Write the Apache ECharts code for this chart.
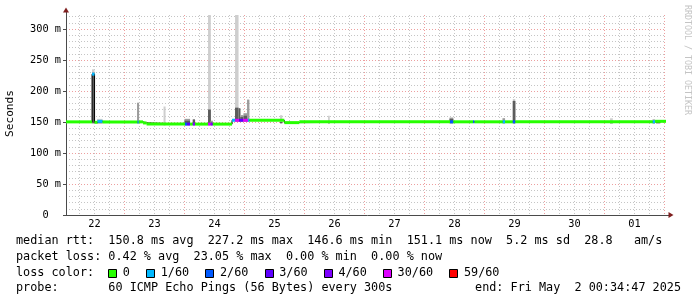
<!DOCTYPE html>
<html>
<head>
<meta charset="utf-8">
<script src="https://cdn.jsdelivr.net/npm/echarts@6.0.0/dist/echarts.min.js"></script>
<style>
html,body{margin:0;padding:0;background:#ffffff;}
#chart{width:697px;height:297px;}
</style>
</head>
<body>
<div id="chart"></div>
<script>
// ---- DATA (time unit: hours since 2025-04-22 00:00) ----
const timeStart = 0.58;   // Apr 22 00:34:47
const timeEnd = 240.58;   // May  2 00:34:47
const dayLabels = ['22','23','24','25','26','27','28','29','30','01'];
const yTickLabels = ['0  ','50 m','100 m','150 m','200 m','250 m','300 m'];

// loss colour legend
const lossLevels = [0, 1, 2, 3, 4, 30, 59];
const lossLabels = ['0','1/60','2/60','3/60','4/60','30/60','59/60'];
const lossColors = ['#26ff00','#00b8ff','#0059ff','#5e00ff','#7e00ff','#dd00ff','#ff0000'];

// median rtt: segment boundaries (hours), value (ms), lost pings
const medTimes = [0.58, 11.0, 12.0, 13.2, 15.2, 29.2, 29.7, 31.4, 32.8, 48.2, 49.0, 50.2, 51.3, 52.2, 57.4, 58.5, 59.3,
                  67.0, 68.2, 69.8, 71.4, 73.4, 74.0, 87.9, 93.9, 154.2, 155.5, 163.4, 164.0, 175.3, 176.2, 179.3, 180.3,
                  235.3, 236.2, 240.58];
const medMs = [150.2, 227.2, 149.5, 151.0, 150.2, 150.2, 150.2, 148.5, 146.6, 146.6, 146.6, 146.6, 146.6, 146.6, 146.6, 146.6, 146.6,
               152.8, 152.8, 152.8, 152.8, 152.8, 152.8, 149.0, 150.3, 150.3, 150.3, 150.3, 150.3, 150.3, 150.3, 150.3, 150.3,
               150.3, 151.1];
const medLoss = [0, 1, 0, 1, 0, 1, 0, 0, 0, 2, 3, 0, 4, 0, 14, 4, 0,
                 1, 12, 3, 8, 1, 0, 0, 0, 2, 0, 2, 0, 1, 0, 2, 0,
                 1, 0];

// smoke (ping spread): start/end hour, low, dense top, medium top, outer top (ms)
const smokeStart = [11.0, 13.0, 29.0, 39.6, 48.0, 51.3, 57.4, 58.5, 68.2, 69.6, 70.3, 71.6, 73.0, 86.2, 105.4, 154.0, 175.2, 179.3, 218.2, 235.2, 236.6];
const smokeEnd   = [12.0, 15.2, 29.8, 40.4, 50.2, 52.2, 58.5, 59.3, 69.6, 70.3, 71.6, 73.0, 73.9, 87.1, 106.1, 155.5, 176.2, 180.3, 219.3, 236.2, 238.3];
const smokeLow   = [148, 148, 148, 145, 145, 145, 145, 145, 151, 151, 151, 151, 151, 148, 148, 148, 148, 148, 148, 148, 148];
const smokeDark  = [227, 150, 150, 146, 152, 154, 170, 149, 173, 172, 158, 160, 152, 150, 150, 155, 150, 184, 150, 150, 150];
const smokeMid   = [230, 153, 181, 146, 155, 154, 170, 152, 173, 172, 161, 164, 186, 150, 150, 157, 156, 184, 150, 154, 150];
const smokeTop   = [235, 155, 181, 175, 155, 154, 330, 152, 330, 172, 161, 164, 186, 161, 160, 157, 156, 187, 156, 154, 153];

const legendRtt  = 'median rtt:  150.8 ms avg  227.2 ms max  146.6 ms min  151.1 ms now  5.2 ms sd  28.8   am/s';
const legendLoss = 'packet loss: 0.42 % avg  23.05 % max  0.00 % min  0.00 % now';
const legendProbe = 'probe:       60 ICMP Echo Pings (56 Bytes) every 300s';
const legendEnd = 'end: Fri May  2 00:34:47 2025';

// ---- RENDER ----
const MONO = '"DejaVu Sans Mono", monospace';
const LEG_FS = 11.8;
const CW = LEG_FS * 0.602;
const axisColor = '#4a4a4a';
const arrowColor = '#7f1f1f';
const minorGrid = 'rgba(140,140,140,0.5)';
const majorGrid = 'rgba(222,80,80,0.55)';
const smokeColors = ['#cecece', '#9c9c9c', '#5c5c5c'];

function lossColor(l) {
  for (let i = 0; i < lossLevels.length; i++) if (l <= lossLevels[i]) return lossColors[i];
  return lossColors[lossColors.length - 1];
}

const medSegData = medMs.map((v, i) => [medTimes[i], medTimes[i + 1], v, medLoss[i]]);
const medLineData = [];
medMs.forEach((v, i) => { medLineData.push([medTimes[i], v], [medTimes[i + 1], v]); });
const smokeData = smokeStart.map((s, i) => [s, smokeEnd[i], smokeLow[i], smokeDark[i], smokeMid[i], smokeTop[i]]);

function renderSmoke(params, api) {
  const s = api.value(0), e = api.value(1), lo = api.value(2);
  const top = params.coordSys.y;
  const mk = (v, color) => {
    const p0 = api.coord([s, lo]);
    const p1 = api.coord([e, v]);
    const y1 = Math.max(top, p1[1]);
    return {type: 'rect', shape: {x: p0[0], y: y1, width: p1[0] - p0[0], height: Math.max(0, p0[1] - y1)}, style: {fill: color}};
  };
  return {type: 'group', children: [mk(api.value(5), smokeColors[0]), mk(api.value(4), smokeColors[1]), mk(api.value(3), smokeColors[2])]};
}
function renderMedian(params, api) {
  const p0 = api.coord([api.value(0), api.value(2)]);
  const p1 = api.coord([api.value(1), api.value(2)]);
  return {type: 'rect', shape: {x: p0[0], y: p0[1] - 1.5, width: p1[0] - p0[0], height: 3}, style: {fill: lossColor(api.value(3))}};
}

const hidden = (g, extra) => Object.assign({gridIndex: g, type: 'value', show: false}, extra || {});

const graphic = [
  {type: 'text', x: 16, y: 241, style: {text: legendRtt, font: LEG_FS + 'px ' + MONO, fill: '#000', verticalAlign: 'middle'}},
  {type: 'text', x: 16, y: 257, style: {text: legendLoss, font: LEG_FS + 'px ' + MONO, fill: '#000', verticalAlign: 'middle'}},
  {type: 'text', x: 16, y: 273, style: {text: 'loss color:', font: LEG_FS + 'px ' + MONO, fill: '#000', verticalAlign: 'middle'}},
  {type: 'text', x: 16, y: 288, style: {text: legendProbe, font: LEG_FS + 'px ' + MONO, fill: '#000', verticalAlign: 'middle'}},
  {type: 'text', x: 681, y: 288, style: {text: legendEnd, font: LEG_FS + 'px ' + MONO, fill: '#000', align: 'right', verticalAlign: 'middle'}},
  {type: 'text', x: 687, y: 5, rotation: -Math.PI / 2, style: {text: 'RRDTOOL / TOBI OETIKER', font: '8.3px ' + MONO, fill: '#c4c4c4', align: 'left', verticalAlign: 'middle'}}
];
let bx = 16 + 13 * CW;
lossLabels.forEach((lab, i) => {
  graphic.push({type: 'rect', shape: {x: Math.round(bx) + 0.5, y: 269.5, width: 8, height: 8}, style: {fill: lossColors[i], stroke: '#000', lineWidth: 1}});
  graphic.push({type: 'text', x: bx + 14.5, y: 273, style: {text: lab, font: LEG_FS + 'px ' + MONO, fill: '#000', verticalAlign: 'middle'}});
  bx += 30.8 + lab.length * CW;
});

const G = (o) => Object.assign({outerBoundsMode: 'none', containLabel: false}, o);

const option = {
  animation: false,
  backgroundColor: '#ffffff',
  grid: [
    G({left: 66, top: 15, width: 600, height: 200}),      // 0 data
    G({left: 79.55, top: 15, width: 585, height: 200}),   // 1 vertical grid (06:00 Apr 22 .. 00:00 May 2)
    G({left: 66, top: 16.6, width: 600, height: 198.4}),  // 2 horizontal grid (0..320)
    G({left: 66, top: 12, width: 603, height: 203}),      // 3 axis lines
    G({left: 66, top: 12, width: 603, height: 203}),      // 4 arrows
    G({left: 66, top: 29, width: 600, height: 186}),      // 5 y labels (0..300)
    G({left: 64.55, top: 15, width: 600, height: 200})    // 6 day labels
  ],
  xAxis: [
    hidden(0, {min: timeStart, max: timeEnd}),
    {gridIndex: 1, type: 'value', min: 6, max: 240, interval: 6,
     axisLine: {show: false}, axisTick: {show: false}, axisLabel: {show: false},
     splitLine: {show: true, lineStyle: {color: [minorGrid, minorGrid, minorGrid, majorGrid], width: 1, type: [1, 2]}}},
    hidden(2, {min: 0, max: 1}),
    {gridIndex: 3, type: 'value', min: 0, max: 1, axisLine: {show: true, onZero: false, lineStyle: {color: axisColor, width: 1}},
     axisTick: {show: false}, axisLabel: {show: false}, splitLine: {show: false}},
    {gridIndex: 4, type: 'value', min: 0, max: 1,
     axisLine: {show: true, onZero: false, lineStyle: {color: arrowColor, width: 0}, symbol: ['none', 'triangle'], symbolSize: [6, 5], symbolOffset: [0, 2]},
     axisTick: {show: false}, axisLabel: {show: false}, splitLine: {show: false}},
    hidden(5, {min: 0, max: 1}),
    {gridIndex: 6, type: 'category', data: dayLabels, boundaryGap: true,
     axisLine: {show: false}, axisTick: {show: false}, splitLine: {show: false},
     axisLabel: {show: true, interval: 0, margin: 4, fontFamily: MONO, fontSize: 10.3, color: '#000'}}
  ],
  yAxis: [
    hidden(0, {min: 0, max: 322.58}),
    hidden(1, {min: 0, max: 1}),
    {gridIndex: 2, type: 'value', min: 0, max: 320, interval: 10,
     axisLine: {show: false}, axisTick: {show: false}, axisLabel: {show: false},
     splitLine: {show: true, lineStyle: {color: [majorGrid, minorGrid, minorGrid, minorGrid, minorGrid], width: 1, type: [1, 2]}}},
    {gridIndex: 3, type: 'value', min: 0, max: 1, axisLine: {show: true, onZero: false, lineStyle: {color: axisColor, width: 1}},
     axisTick: {show: false}, axisLabel: {show: false}, splitLine: {show: false},
     name: 'Seconds', nameLocation: 'middle', nameGap: 50, nameRotate: 90,
     nameTextStyle: {fontFamily: MONO, fontSize: 11.1, color: '#000'}},
    {gridIndex: 4, type: 'value', min: 0, max: 1,
     axisLine: {show: true, onZero: false, lineStyle: {color: arrowColor, width: 0}, symbol: ['none', 'triangle'], symbolSize: [6, 5], symbolOffset: [0, 2]},
     axisTick: {show: false}, axisLabel: {show: false}, splitLine: {show: false}},
    {gridIndex: 5, type: 'value', min: 0, max: 300, interval: 50,
     axisLine: {show: false}, splitLine: {show: false},
     axisTick: {show: true, length: 3, lineStyle: {color: axisColor}},
     axisLabel: {show: true, margin: 5, fontFamily: MONO, fontSize: 10.3, color: '#000',
                 formatter: (v) => yTickLabels[Math.round(v / 50)] || ''}},
    hidden(6, {min: 0, max: 1})
  ],
  series: [
    {type: 'custom', name: 'smoke', xAxisIndex: 0, yAxisIndex: 0, data: smokeData, renderItem: renderSmoke, silent: true, z: 2},
    {type: 'line', name: 'median-step', xAxisIndex: 0, yAxisIndex: 0, data: medLineData, symbol: 'none', showSymbol: false,
     lineStyle: {color: '#000', width: 1}, silent: true, z: 3},
    {type: 'custom', name: 'median', xAxisIndex: 0, yAxisIndex: 0, data: medSegData, renderItem: renderMedian, silent: true, z: 4}
  ],
  graphic: graphic
};

const chart = echarts.init(document.getElementById('chart'), null, {renderer: 'canvas', width: 697, height: 297});
chart.setOption(option);
</script>
</body>
</html>
